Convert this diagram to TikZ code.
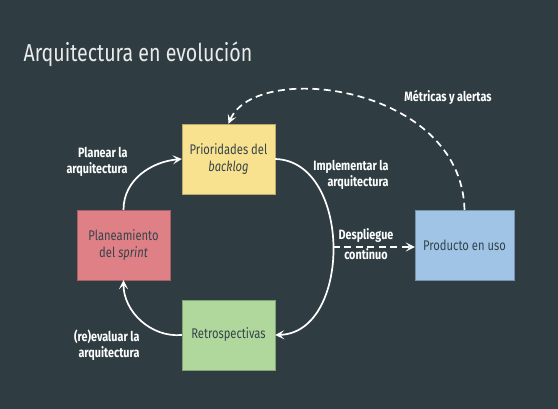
\documentclass[tikz,border=0pt]{standalone}
\usepackage{fontspec}
\setmainfont{Fira Sans}[FakeStretch=0.8]
\usetikzlibrary{arrows.meta}

\definecolor{fondo}{HTML}{2F3D42}
\definecolor{textocaja}{HTML}{36444A}
\definecolor{amarillo}{HTML}{F9E28F}
\definecolor{rosa}{HTML}{DF7F86}
\definecolor{verde}{HTML}{B0D89C}
\definecolor{azul}{HTML}{9FC4E6}

\begin{document}
\begin{tikzpicture}[
                x=1pt, y=-1pt,
                caja/.style = {rectangle, draw=#1!75!black, fill=#1, minimum width=93pt, minimum height=70pt,
                        align=center, text=textocaja, font=\fontsize{14}{17}\selectfont},
                flecha/.style = {white, line width=1.7pt, -{Stealth[length=9pt, width=9pt, inset=4pt]}},
                punteada/.style = {dash pattern=on 7pt off 4.5pt},
                etiqueta/.style = {text=white, align=right, font=\fontsize{13.5}{16}\selectfont\bfseries}
        ]
        \fill[fondo] (0,0) rectangle (558,409);
        \useasboundingbox (0,0) rectangle (558,409);

        \node[anchor=base west, text=white!92!black, font=\fontsize{24.5}{28}\selectfont] (titulo) at (20,62) {Arquitectura en evolución};

        % cajas
        \node[caja=amarillo] (prio) at (228.5,159) {Prioridades del\\\textit{backlog}};
        \node[caja=rosa] (plan) at (123.5,245) {Planeamiento\\del \textit{sprint}};
        \node[caja=verde] (retro) at (228.5,335) {Retrospectivas};
        \node[caja=azul, minimum width=99pt] (prod) at (464.5,245) {Producto en uso};

        % ciclo
        \draw[flecha] (plan.north) to[out=90, in=185] (prio.west);
        \draw[flecha] (prio.east) .. controls +(77,2) and +(77,-2) .. coordinate[pos=0.5] (medio) (retro.east);
        \draw[flecha] (retro.west) to[out=185, in=-90] (plan.south);

        % despliegue y metricas
        \draw[flecha, punteada] (medio) -- (medio -| prod.west);
        \draw[flecha, punteada] (prod.north) .. controls +(-3,-125) and +(27,-64) .. (prio.north);

        % etiquetas
        \node[etiqueta, anchor=east] (planear) at (131,162) {Planear la\\arquitectura};
        \node[etiqueta, anchor=east] (implementar) at (392,175) {Implementar la\\arquitectura};
        \node[etiqueta, anchor=east] (reevaluar) at (143,345) {(re)evaluar la\\arquitectura};
        \node[etiqueta, align=center, font=\fontsize{13.5}{20}\selectfont\bfseries] (despliegue) at (366,244) {Despliegue\\continuo};
        \node[etiqueta] (metricas) at (448,97) {Métricas y alertas};
\end{tikzpicture}
\end{document}
